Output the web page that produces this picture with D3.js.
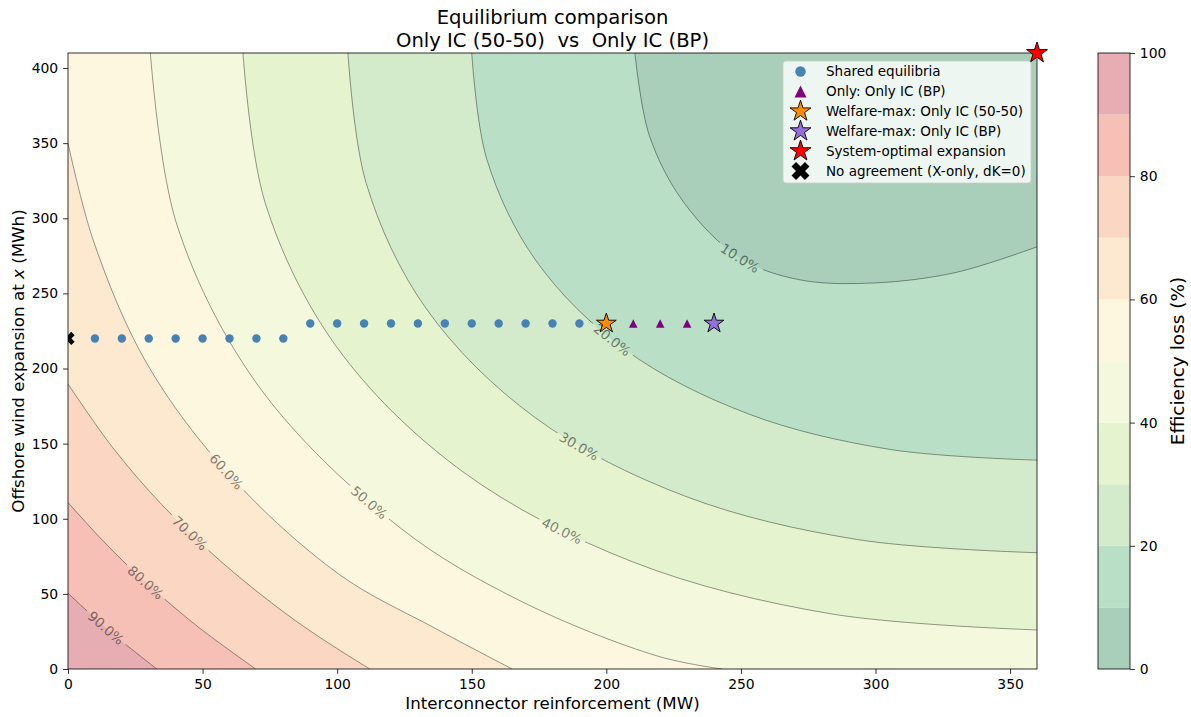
<!DOCTYPE html>
<html>
<head>
<meta charset="utf-8">
<script src="https://cdn.jsdelivr.net/npm/d3@7"></script>
<style>
  body { margin: 0; background: #ffffff; }
  text { font-family: "DejaVu Sans", sans-serif; }
</style>
</head>
<body>
<svg id="chart" width="1191" height="717"></svg>
<script>
// ---------------- data ----------------
// Efficiency-loss contour levels (%) and the iso-lines, as [interconnector MW, offshore wind MWh] points
const levels = [10, 20, 30, 40, 50, 60, 70, 80, 90];

const contour10 = [[210.6, 410], [216, 355], [229, 310], [249.7, 273.5], [272, 259], [300, 257], [330, 264], [360, 281]];
const contour20 = [[150, 410], [155.6, 339.3], [174.0, 271.4], [207.0, 212.5], [252.6, 169.9], [305.2, 146.2], [360, 139]];
const contour30 = [[104, 410], [110.8, 323.2], [133.1, 239.8], [173.4, 167.5], [229, 115.2], [293.2, 86.2], [360, 77.4]];
const contour40 = [[65, 410], [73.3, 310], [99.8, 214.4], [146.3, 131.8], [209.8, 71.3], [283.2, 36.8], [360, 26]];
const contour50 = [[30.6, 410], [40.4, 296], [71, 187.8], [123, 94.5], [168.2, 45.2], [219.4, 8.4], [243, 0]];
const contour60 = [[0, 350], [9.6, 284.2], [29.3, 203.3], [60.2, 128.7], [100.9, 62.8], [136.6, 26.9], [165, 0]];
const contour70 = [[0, 189.7], [16.6, 147.4], [35.2, 108.7], [56.3, 72.4], [79.6, 38.6], [94.7, 19.7], [112.1, 0]];
const contour80 = [[0, 110.8], [11.4, 88.3], [22.3, 68.6], [34, 49.5], [48.7, 27.5], [69.7, 0]];
const contour90 = [[0, 50.4], [8, 37.1], [18.1, 21.2], [33, 0]];

// where each contour carries its inline label
const labelAnchors = [[249.7, 273.5], [202.1, 219], [189.8, 147.8], [182.8, 89.2], [111.8, 110.5],
                      [58.7, 131.1], [44.6, 89.2], [30.1, 59.9], [13.4, 26]];

// equilibria
const sharedK = [10, 20, 30, 40, 50, 60, 70, 80, 90, 100, 110, 120, 130, 140, 150, 160, 170, 180, 190];
const sharedX = [220, 220, 220, 220, 220, 220, 220, 220, 230, 230, 230, 230, 230, 230, 230, 230, 230, 230, 230];
const onlyBPK = [210, 220, 230];
const onlyBPX = [230, 230, 230];
const welfareMax5050 = [200, 230];
const welfareMaxBP = [240, 230];
const systemOptimal = [360, 410];
const noAgreement = [0, 220];

const xTicks = [0, 50, 100, 150, 200, 250, 300, 350];
const yTicks = [0, 50, 100, 150, 200, 250, 300, 350, 400];
const cbTicks = [0, 20, 40, 60, 80, 100];

// ---------------- styles ----------------
const bandColors = ["#a9cfbb", "#b9e0c7", "#d3ebcb", "#e6f3cf", "#f4f9de",
                    "#fef7e0", "#fde9d0", "#fbd6c3", "#f6c0b7", "#e6aeb2"];
const contourByLevel = {10: contour10, 20: contour20, 30: contour30, 40: contour40, 50: contour50,
                        60: contour60, 70: contour70, 80: contour80, 90: contour90};

const W = 1191, H = 717;
const plot = { left: 68, right: 1037, top: 53, bottom: 669 };
const svg = d3.select("#chart");

const x = d3.scaleLinear().domain([0, 360]).range([plot.left, plot.right]);
const y = d3.scaleLinear().domain([0, 410]).range([plot.bottom, plot.top]);

const defs = svg.append("defs");
defs.append("clipPath").attr("id", "plotClip").append("rect")
  .attr("x", plot.left).attr("y", plot.top)
  .attr("width", plot.right - plot.left).attr("height", plot.bottom - plot.top);

const isoLine = d3.line()
  .x(d => x(d[0])).y(d => y(d[1]))
  .curve(d3.curveCatmullRom.alpha(0.5));

// ---------------- filled bands ----------------
// each band is painted as the region below a level (towards the optimum corner)
const beyond = [[400, -60], [400, 470], [-40, 470]];
const gFill = svg.append("g").attr("clip-path", "url(#plotClip)");
gFill.append("rect")
  .attr("x", plot.left).attr("y", plot.top)
  .attr("width", plot.right - plot.left).attr("height", plot.bottom - plot.top)
  .attr("fill", bandColors[9]);
for (let i = levels.length - 1; i >= 0; i--) {
  const pts = contourByLevel[levels[i]];
  const d = isoLine(pts) + beyond.map(p => "L" + x(p[0]) + "," + y(p[1])).join("") + "Z";
  gFill.append("path").attr("d", d).attr("fill", bandColors[i]);
}

// ---------------- contour lines with inline labels ----------------
const gapMask = defs.append("mask").attr("id", "labelGaps")
  .attr("maskUnits", "userSpaceOnUse")
  .attr("x", 0).attr("y", 0).attr("width", W).attr("height", H);
gapMask.append("rect").attr("x", 0).attr("y", 0).attr("width", W).attr("height", H).attr("fill", "white");

const gLinesOuter = svg.append("g").attr("clip-path", "url(#plotClip)");
const gLines = gLinesOuter.append("g").attr("mask", "url(#labelGaps)");
const gLabels = svg.append("g");

levels.forEach((L, i) => {
  const path = gLines.append("path")
    .attr("d", isoLine(contourByLevel[L]))
    .attr("fill", "none")
    .attr("stroke", "#000")
    .attr("stroke-opacity", 0.5)
    .attr("stroke-width", 0.8);
  const node = path.node();
  const total = node.getTotalLength();
  const ax = x(labelAnchors[i][0]), ay = y(labelAnchors[i][1]);
  let best = 0, bestD = Infinity;
  for (let s = 0; s <= total; s += 0.5) {
    const q = node.getPointAtLength(s);
    const dd = (q.x - ax) ** 2 + (q.y - ay) ** 2;
    if (dd < bestD) { bestD = dd; best = s; }
  }
  const c = node.getPointAtLength(best);
  const a = node.getPointAtLength(Math.max(0, best - 10));
  const b = node.getPointAtLength(Math.min(total, best + 10));
  let ang = Math.atan2(b.y - a.y, b.x - a.x) * 180 / Math.PI;
  if (ang > 90) ang -= 180;
  if (ang < -90) ang += 180;
  const tf = `translate(${c.x},${c.y}) rotate(${ang})`;
  const t = gLabels.append("text")
    .attr("transform", tf)
    .attr("text-anchor", "middle")
    .attr("dy", "0.36em")
    .attr("font-size", 13.5)
    .attr("fill", "#000")
    .attr("fill-opacity", 0.5)
    .text(L.toFixed(1) + "%");
  const w = t.node().getComputedTextLength();
  gapMask.append("rect")
    .attr("transform", tf)
    .attr("x", -w / 2 - 4).attr("y", -7)
    .attr("width", w + 8).attr("height", 14)
    .attr("fill", "black");
});

// ---------------- markers ----------------
const starPath = size => d3.symbol().type(d3.symbolStar).size(size)();
const trianglePath = s => `M0,${-s / 2}L${s / 2},${s / 2}L${-s / 2},${s / 2}Z`;
function crossPath(arm, half) {
  const pts = [[half, -arm], [half, -half], [arm, -half], [arm, half], [half, half], [half, arm],
               [-half, arm], [-half, half], [-arm, half], [-arm, -half], [-half, -half], [-half, -arm]];
  const c = Math.SQRT1_2;
  return "M" + pts.map(([px, py]) => ((px - py) * c).toFixed(2) + "," + ((px + py) * c).toFixed(2)).join("L") + "Z";
}

const gMarks = svg.append("g").attr("clip-path", "url(#plotClip)");
gMarks.selectAll("circle.shared").data(sharedK).join("circle")
  .attr("class", "shared")
  .attr("cx", d => x(d)).attr("cy", (d, i) => y(sharedX[i]))
  .attr("r", 4.2).attr("fill", "steelblue");
gMarks.selectAll("path.onlybp").data(onlyBPK).join("path")
  .attr("class", "onlybp")
  .attr("transform", (d, i) => `translate(${x(d)},${y(onlyBPX[i])})`)
  .attr("d", trianglePath(8.6)).attr("fill", "purple");
gMarks.append("path")
  .attr("transform", `translate(${x(welfareMax5050[0])},${y(welfareMax5050[1])})`)
  .attr("d", starPath(122)).attr("fill", "darkorange").attr("stroke", "#000").attr("stroke-width", 0.9);
gMarks.append("path")
  .attr("transform", `translate(${x(welfareMaxBP[0])},${y(welfareMaxBP[1])})`)
  .attr("d", starPath(122)).attr("fill", "mediumpurple").attr("stroke", "#000").attr("stroke-width", 0.9);
gMarks.append("path")
  .attr("transform", `translate(${x(noAgreement[0])},${y(noAgreement[1])})`)
  .attr("d", crossPath(7, 2.4)).attr("fill", "#000");

// ---------------- frame & axes ----------------
svg.append("rect")
  .attr("x", plot.left).attr("y", plot.top)
  .attr("width", plot.right - plot.left).attr("height", plot.bottom - plot.top)
  .attr("fill", "none").attr("stroke", "#000").attr("stroke-width", 0.8);

// the system optimum sits on the corner and is drawn unclipped
svg.append("path")
  .attr("transform", `translate(${x(systemOptimal[0])},${y(systemOptimal[1])})`)
  .attr("d", starPath(136)).attr("fill", "red").attr("stroke", "#000").attr("stroke-width", 0.9);

function styleAxis(g) {
  g.select(".domain").remove();
  g.selectAll(".tick line").attr("stroke", "#000").attr("stroke-width", 0.8);
  g.selectAll(".tick text").attr("fill", "#000").attr("font-size", 13.9)
    .attr("font-family", "DejaVu Sans, sans-serif");
}
svg.append("g").attr("transform", `translate(0,${plot.bottom})`)
  .call(d3.axisBottom(x).tickValues(xTicks).tickFormat(d3.format("d")).tickSize(4.9).tickPadding(4.9))
  .call(styleAxis);
svg.append("g").attr("transform", `translate(${plot.left},0)`)
  .call(d3.axisLeft(y).tickValues(yTicks).tickFormat(d3.format("d")).tickSize(4.9).tickPadding(4.9))
  .call(styleAxis);

svg.append("text")
  .attr("x", (plot.left + plot.right) / 2).attr("y", 709)
  .attr("text-anchor", "middle").attr("font-size", 16.7)
  .text("Interconnector reinforcement (MW)");
const yl = svg.append("text")
  .attr("transform", `translate(24,${(plot.top + plot.bottom) / 2}) rotate(-90)`)
  .attr("text-anchor", "middle").attr("font-size", 16.7);
yl.append("tspan").text("Offshore wind expansion at ");
yl.append("tspan").attr("font-style", "italic").text("x");
yl.append("tspan").text(" (MWh)");

svg.append("text")
  .attr("x", (plot.left + plot.right) / 2).attr("y", 24)
  .attr("text-anchor", "middle").attr("font-size", 19.6)
  .text("Equilibrium comparison");
svg.append("text")
  .attr("x", (plot.left + plot.right) / 2).attr("y", 47)
  .attr("text-anchor", "middle").attr("font-size", 19.6)
  .attr("xml:space", "preserve")
  .text("Only IC (50-50)  vs  Only IC (BP)");

// ---------------- colour bar ----------------
const cb = { left: 1098, right: 1130 };
const cScale = d3.scaleLinear().domain([0, 100]).range([plot.bottom, plot.top]);
const bandEdges = d3.range(0, 101, 10);
svg.append("g").selectAll("rect").data(bandColors).join("rect")
  .attr("x", cb.left).attr("width", cb.right - cb.left)
  .attr("y", (d, i) => cScale(bandEdges[i + 1]))
  .attr("height", (d, i) => cScale(bandEdges[i]) - cScale(bandEdges[i + 1]))
  .attr("fill", d => d);
svg.append("rect")
  .attr("x", cb.left).attr("y", plot.top)
  .attr("width", cb.right - cb.left).attr("height", plot.bottom - plot.top)
  .attr("fill", "none").attr("stroke", "#000").attr("stroke-width", 0.8);
svg.append("g").attr("transform", `translate(${cb.right},0)`)
  .call(d3.axisRight(cScale).tickValues(cbTicks).tickFormat(d3.format("d")).tickSize(4.9).tickPadding(4.9))
  .call(styleAxis);
svg.append("text")
  .attr("transform", `translate(1183.5,${(plot.top + plot.bottom) / 2}) rotate(-90)`)
  .attr("text-anchor", "middle").attr("font-size", 18.5)
  .text("Efficiency loss (%)");

// ---------------- legend ----------------
const legendItems = [
  { label: "Shared equilibria", kind: "circle", color: "steelblue" },
  { label: "Only: Only IC (BP)", kind: "triangle", color: "purple" },
  { label: "Welfare-max: Only IC (50-50)", kind: "star", color: "darkorange" },
  { label: "Welfare-max: Only IC (BP)", kind: "star", color: "mediumpurple" },
  { label: "System-optimal expansion", kind: "star", color: "red" },
  { label: "No agreement (X-only, dK=0)", kind: "cross", color: "#000" }
];
const lg = svg.append("g");
lg.append("rect")
  .attr("x", 783).attr("y", 61).attr("width", 248).attr("height", 122).attr("rx", 3)
  .attr("fill", "#fff").attr("fill-opacity", 0.8)
  .attr("stroke", "#cccccc").attr("stroke-width", 0.8);
legendItems.forEach((it, i) => {
  const cy = 71.5 + i * 19.9;
  const g = lg.append("g").attr("transform", `translate(800.5,${cy})`);
  if (it.kind === "circle") g.append("circle").attr("r", 5.2).attr("fill", it.color);
  if (it.kind === "triangle") g.append("path").attr("d", trianglePath(12)).attr("fill", it.color);
  if (it.kind === "star") g.append("path").attr("d", starPath(136)).attr("fill", it.color)
    .attr("stroke", "#000").attr("stroke-width", 0.9);
  if (it.kind === "cross") g.append("path").attr("d", crossPath(9.5, 3.2)).attr("fill", it.color);
  lg.append("text").attr("x", 826).attr("y", cy).attr("dy", "0.36em")
    .attr("font-size", 13.5).text(it.label);
});
</script>
</body>
</html>
